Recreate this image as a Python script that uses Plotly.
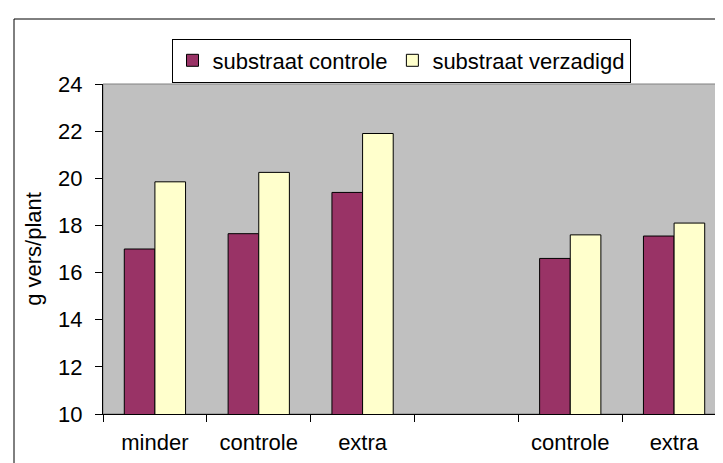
import plotly.graph_objects as go

# categories (the 4th slot is an empty spacer category)
categories = ["minder", "controle", "extra", "", "controle", "extra"]
substraat_controle = [17.0, 17.65, 19.4, None, 16.6, 17.55]
substraat_verzadigd = [19.85, 20.25, 21.9, None, 17.6, 18.1]
y_ticks = [10, 12, 14, 16, 18, 20, 22, 24]

positions = list(range(len(categories)))
font = "Liberation Sans, Arial, sans-serif"

fig = go.Figure()
fig.add_trace(go.Bar(
    x=positions, y=substraat_controle, name="substraat controle",
    marker=dict(color="#993366", line=dict(color="black", width=1)),
))
fig.add_trace(go.Bar(
    x=positions, y=substraat_verzadigd, name="substraat verzadigd",
    marker=dict(color="#FFFFCC", line=dict(color="black", width=1)),
))

# pixel layout of the plot area
W, H = 723, 463
L, R, T, B = 95, 5, 76, 57
pw, ph = W - L - R, H - T - B

def px(xp):
    return (xp - L) / pw

def py(yp):
    return (H - B - yp) / ph

fig.update_layout(
    width=W, height=H,
    margin=dict(l=L, r=R, t=T, b=B),
    paper_bgcolor="white",
    plot_bgcolor="#C0C0C0",
    barmode="group",
    bargap=0.41,
    bargroupgap=0,
    font=dict(family=font, size=22, color="black"),
    showlegend=True,
    legend=dict(
        orientation="h",
        x=px(393), y=py(52.5), xanchor="center", yanchor="middle",
        bgcolor="white", bordercolor="black", borderwidth=1,
        font=dict(size=22),
        itemwidth=30,
        tracegroupgap=0,
    ),
    xaxis=dict(
        range=[-0.5, len(categories) - 0.5],
        tickmode="array", tickvals=positions, ticktext=categories,
        ticks="outside", ticklen=9, tickcolor="rgba(0,0,0,0)",
        showline=True, linecolor="black", linewidth=1,
        showgrid=False, zeroline=False,
        minor=dict(tickmode="linear", tick0=-0.5, dtick=1,
                   ticks="outside", ticklen=7, tickcolor="black"),
    ),
    yaxis=dict(
        range=[10, 24], tickvals=y_ticks,
        ticks="outside", ticklen=7, tickcolor="black",
        ticklabelstandoff=8,
        showline=True, linecolor="black", linewidth=1,
        showgrid=False, zeroline=False,
        title=dict(text="g vers/plant", standoff=10, font=dict(size=22)),
    ),
    shapes=[
        # gray plot-area border (top/right)
        dict(type="rect", xref="paper", yref="paper", x0=0, x1=1, y0=0, y1=1,
             line=dict(color="#808080", width=1), layer="below"),
        # outer chart frame
        dict(type="rect", xref="paper", yref="paper",
             x0=px(6), x1=px(740), y0=py(480), y1=py(11),
             line=dict(color="black", width=1)),
    ],
)

fig.write_html("out.html")
